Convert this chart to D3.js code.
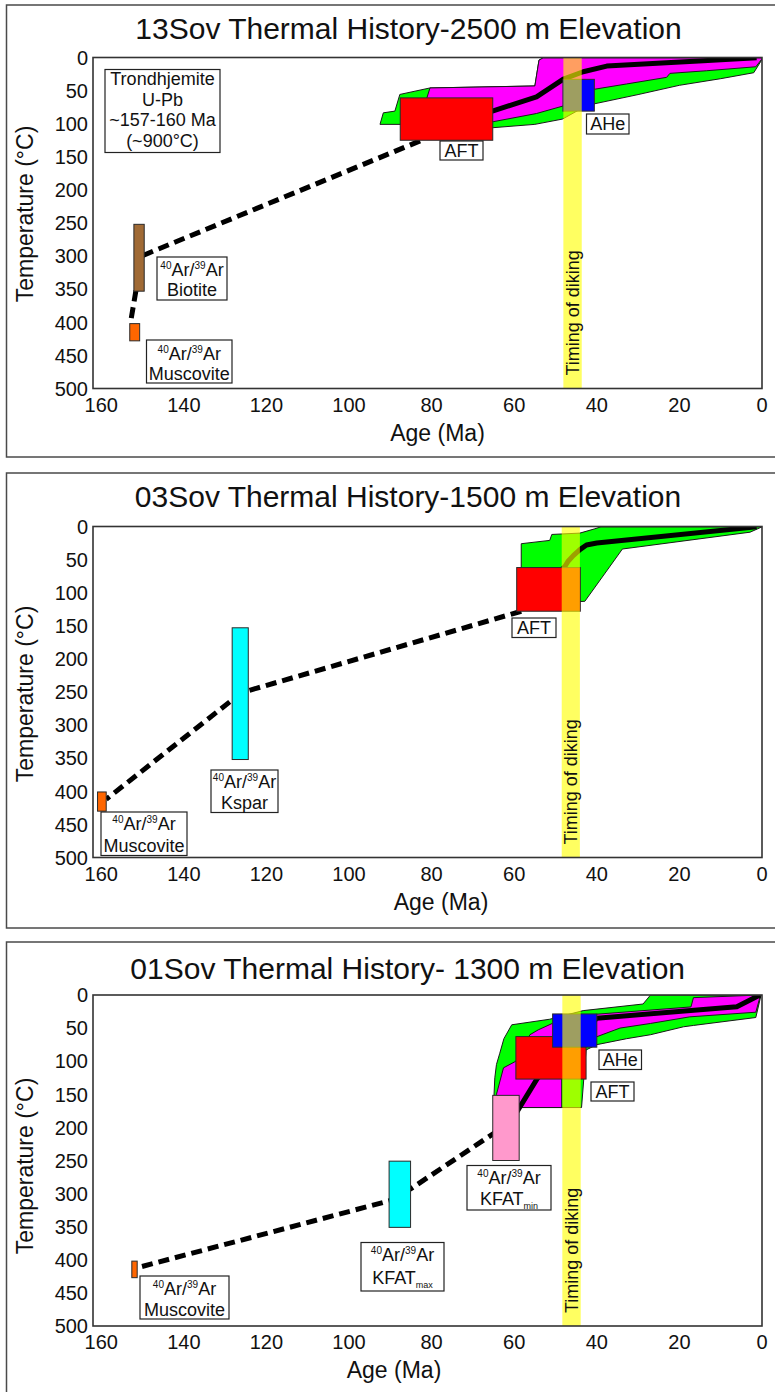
<!DOCTYPE html>
<html>
<head>
<meta charset="utf-8">
<script src="https://cdn.jsdelivr.net/npm/d3@7"></script>
<style>
  body { margin: 0; background: #fff; }
  svg { display: block; }
  text { font-family: "Liberation Sans", Arial, Helvetica, sans-serif; fill: #111; }
</style>
</head>
<body>
<svg id="chart" width="775" height="1392"></svg>
<script>
// ---- shared axis values ----
const ageTicks = [160, 140, 120, 100, 80, 60, 40, 20, 0];
const tempTicks = [0, 50, 100, 150, 200, 250, 300, 350, 400, 450, 500];

// ---- 13Sov (2500 m) : [age Ma, temperature °C] ----
const sov13Title = "13Sov Thermal History-2500 m Elevation";
const sov13Outer = [[80.4,46],[55,43],[54,4],[53,0.5],[0,0.5],[0,3],[2,23],[10,32],[20,42],[30,56],[40.6,70],[43.7,77],[48.3,93],[55,101],[65.1,106],[87.6,101],[92.5,101],[91.7,83.6],[88.9,81],[87.7,55.8]];
const sov13Inner = [[80.4,46],[55,43],[54,4],[53,0.5],[0,0.5],[0,2],[1.5,14],[13.4,20],[22.3,24],[23.1,30],[32.8,40],[40.6,48],[48.3,73.5],[54.6,84.6],[65.1,97],[81.2,62]];
const sov13Path = [[67,84],[65.1,80.6],[54.6,59.4],[48.1,32.6],[43.3,21.5],[37.6,13],[14.2,4.8],[1.3,0.5]];
const sov13Extrapolated = [[[82.8,126],[149.9,299]], [[151.6,352],[152.9,400]]];
const sov13AFT = [65.2, 87.6, 61, 125];       // [young age, old age, min T, max T]
const sov13AHe = [40.6, 48.2, 33, 81];
const sov13Biotite = [149.6, 152.1, 252, 353];
const sov13Muscovite = [150.7, 153.1, 402, 428];
const sov13Diking = [43.65, 48.1];

// ---- 03Sov (1500 m) ----
const sov03Title = "03Sov Thermal History-1500 m Elevation";
const sov03Outer = [[58.3,62],[58.3,26],[51.4,21],[50.9,12],[44.1,10],[40.5,3.5],[39,0.5],[0,0.5],[0.5,2],[2.9,8.6],[33.8,34],[42.9,113],[50,115],[58.3,100]];
const sov03Path = [[49,70],[48.3,64],[47.7,60],[46.9,52],[45.7,44],[44.1,35],[42.5,28],[40,25],[1.3,0.5]];
const sov03Extrapolated = [[[58.3,128],[124.4,248],[128.3,262],[158.8,412]]];
const sov03AFT = [44, 59.4, 62, 128];
const sov03Kspar = [124.4, 128.3, 153, 352];
const sov03Muscovite = [158.8, 160.9, 401, 430];
const sov03Diking = [44.1, 48.5];

// ---- 01Sov (1300 m) ----
const sov01Title = "01Sov Thermal History- 1300 m Elevation";
const sov01Outer = [[0.3,0],[27,0],[28.8,13.6],[43.3,23.6],[51.4,36.6],[60.6,45],[62.5,66],[63.5,88],[64.3,105],[64.7,125],[65,165],[58.8,170],[43.7,170],[42.6,83],[40,75],[32.8,66],[27,60],[19,48],[16.6,46],[1.5,34],[0.3,2]];
const sov01Inner = [[0.5,0],[16.6,4],[17.2,18],[40,29],[50.7,42.7],[54.2,52.7],[56.2,60],[59.6,100],[62.6,110],[64.3,150],[63,165],[58.7,170],[48.5,170],[48.5,127],[42.8,78],[40,63],[34.4,50],[27,43],[17.5,33],[1.5,26],[0.4,1]];
const sov01Path = [[0.5,0],[6.1,17.6],[40,35],[54.4,126],[59.5,178]];
const sov01Extrapolated = [[[64,205],[85.1,293],[90.3,311],[151.3,412]]];
const sov01AHe = [40, 50.7, 28.6, 78.8];
const sov01AFT = [42.6, 59.6, 62.8, 127];
const sov01KfatMin = [58.8, 65.2, 151.6, 250];
const sov01KfatMax = [85.1, 90.3, 251, 351];
const sov01Muscovite = [151.3, 152.6, 402, 427];
const sov01Diking = [43.9, 48.35];

// ---- drawing ----
const svg = d3.select("#chart");
const COL = {
  outer: "#00ff00", inner: "#ff00ff", aft: "#ff0000", ahe: "#0000ff",
  kspar: "#00ffff", kfatMin: "#ff99cc", biotite: "#a06a35", musc: "#ff6600",
  diking: "#ffff00"
};

function fitText(t, w) {
  const n = t.node().getComputedTextLength();
  if (Math.abs(n - w) / w > 0.015) t.attr("textLength", w).attr("lengthAdjust", "spacingAndGlyphs");
}

function writeLine(g, cx, cy, kind, txt) {
  const t = g.append("text").attr("x", cx).attr("y", cy + 6.4)
    .attr("text-anchor", "middle").attr("font-size", 18);
  if (kind === "ar") {
    t.append("tspan").attr("font-size", 10).attr("dy", -7).text("40");
    t.append("tspan").attr("dy", 7).text("Ar/");
    t.append("tspan").attr("font-size", 10).attr("dy", -7).text("39");
    t.append("tspan").attr("dy", 7).text("Ar");
  } else if (kind === "sub") {
    t.append("tspan").text(txt[0]);
    t.append("tspan").attr("font-size", 9).attr("dy", 4).text(txt[1]);
  } else {
    t.text(txt);
  }
}

function labelBox(g, b) {
  g.append("rect").attr("x", b.x0).attr("y", b.y0)
    .attr("width", b.x1 - b.x0).attr("height", b.y1 - b.y0)
    .attr("fill", "#fff").attr("stroke", "#222").attr("stroke-width", 1.2);
  const cx = (b.x0 + b.x1) / 2;
  b.lines.forEach(l => writeLine(g, cx, l.y, l.kind, l.txt));
}

let clipCount = 0;
function drawPanel(cfg) {
  const g = svg.append("g");
  const x = d3.scaleLinear().domain([162, 0]).range([93, 762]);
  const y = d3.scaleLinear().domain([0, 500]).range([cfg.top, cfg.top + 331]);
  const bottom = y(500);
  const line = d3.line().x(d => x(d[0])).y(d => y(d[1]));

  // panel border
  g.append("rect").attr("x", 6.5).attr("y", cfg.boxTop)
    .attr("width", 800).attr("height", cfg.boxH)
    .attr("fill", "#fff").attr("stroke", "#4a4a4a").attr("stroke-width", 1.5);

  // title
  const title = g.append("text").attr("x", cfg.titleX).attr("y", cfg.titleY + 10.8)
    .attr("text-anchor", "middle").attr("font-size", 30).text(cfg.title);
  fitText(title, cfg.titleW);

  // plot area
  const id = "plotclip" + (clipCount++);
  svg.append("clipPath").attr("id", id).append("rect")
    .attr("x", x(162)).attr("y", y(0)).attr("width", x(0) - x(162)).attr("height", bottom - y(0));
  const p = g.append("g").attr("clip-path", `url(#${id})`);

  const poly = (pts, fill) => p.append("path").attr("d", line(pts) + "Z")
    .attr("fill", fill).attr("stroke", "#1a1a1a").attr("stroke-width", 1).attr("stroke-linejoin", "round");
  if (cfg.outer) poly(cfg.outer, COL.outer);
  if (cfg.inner) poly(cfg.inner, COL.inner);

  // best-fit cooling path
  p.append("path").attr("d", line(cfg.path)).attr("fill", "none")
    .attr("stroke", "#000").attr("stroke-width", 5).attr("stroke-linejoin", "round");
  // extrapolated segments
  cfg.dashed.forEach(seg => p.append("path").attr("d", line(seg)).attr("fill", "none")
    .attr("stroke", "#000").attr("stroke-width", 5).attr("stroke-dasharray", "11,6"));

  // thermochronometer boxes
  cfg.boxes.forEach(([r, fill]) => p.append("rect")
    .attr("x", x(r[1])).attr("y", y(r[2]))
    .attr("width", x(r[0]) - x(r[1])).attr("height", y(r[3]) - y(r[2]))
    .attr("fill", fill).attr("stroke", "#2a2a2a").attr("stroke-width", 1));

  // dike emplacement window
  p.append("rect").attr("x", x(cfg.diking[1])).attr("y", y(0))
    .attr("width", x(cfg.diking[0]) - x(cfg.diking[1])).attr("height", bottom - y(0))
    .attr("fill", COL.diking).attr("fill-opacity", 0.62);
  const dx = x((cfg.diking[0] + cfg.diking[1]) / 2);
  g.append("text").attr("transform", `translate(${dx},${bottom - 13}) rotate(-90)`)
    .attr("dy", "0.35em").attr("font-size", 18).text("Timing of diking");

  cfg.labels.forEach(b => labelBox(g, b));

  // frame
  g.append("rect").attr("x", x(162)).attr("y", y(0))
    .attr("width", x(0) - x(162)).attr("height", bottom - y(0))
    .attr("fill", "none").attr("stroke", "#333").attr("stroke-width", 1.6);

  // axes labels
  g.selectAll(null).data(tempTicks).enter().append("text")
    .attr("x", 88).attr("y", d => y(d) + 7.2).attr("text-anchor", "end")
    .attr("font-size", 20).text(d => d);
  g.selectAll(null).data(ageTicks).enter().append("text")
    .attr("x", d => x(d)).attr("y", bottom + 16 + 7.2).attr("text-anchor", "middle")
    .attr("font-size", 20).text(d => d);
  g.append("text").attr("x", cfg.ageX).attr("y", bottom + 44 + 8.2)
    .attr("text-anchor", "middle").attr("font-size", 23).text("Age (Ma)");
  g.append("text").attr("transform", `translate(25,${cfg.tempY}) rotate(-90)`)
    .attr("dy", "0.35em").attr("text-anchor", "middle").attr("font-size", 23)
    .text("Temperature (°C)");
}

drawPanel({
  boxTop: 5, boxH: 452, title: sov13Title, titleX: 408.5, titleY: 28, titleW: 552,
  top: 57.5, ageX: 437.5, tempY: 214,
  outer: sov13Outer, inner: sov13Inner, path: sov13Path, dashed: sov13Extrapolated,
  boxes: [[sov13AFT, COL.aft], [sov13AHe, COL.ahe], [sov13Biotite, COL.biotite], [sov13Muscovite, COL.musc]],
  diking: sov13Diking,
  labels: [
    { x0: 105, x1: 220, y0: 69.5, y1: 152.5, lines: [
      { y: 79, txt: "Trondhjemite" }, { y: 99.5, txt: "U-Pb" },
      { y: 120, txt: "~157-160 Ma" }, { y: 141, txt: "(~900°C)" }] },
    { x0: 440, x1: 483, y0: 141, y1: 160, lines: [{ y: 150.5, txt: "AFT" }] },
    { x0: 586.5, x1: 629, y0: 114, y1: 134, lines: [{ y: 124, txt: "AHe" }] },
    { x0: 157, x1: 227, y0: 257, y1: 300, lines: [{ y: 270, kind: "ar" }, { y: 290, txt: "Biotite" }] },
    { x0: 146.5, x1: 232, y0: 340, y1: 383, lines: [{ y: 354, kind: "ar" }, { y: 373.5, txt: "Muscovite" }] }
  ]
});

drawPanel({
  boxTop: 473, boxH: 455, title: sov03Title, titleX: 408, titleY: 496.4, titleW: 551,
  top: 526.5, ageX: 441, tempY: 694,
  outer: sov03Outer, inner: null, path: sov03Path, dashed: sov03Extrapolated,
  boxes: [[sov03AFT, COL.aft], [sov03Kspar, COL.kspar], [sov03Muscovite, COL.musc]],
  diking: sov03Diking,
  labels: [
    { x0: 512, x1: 556, y0: 618, y1: 637.5, lines: [{ y: 627.7, txt: "AFT" }] },
    { x0: 211, x1: 278, y0: 770, y1: 812.5, lines: [{ y: 781.5, kind: "ar" }, { y: 802.5, txt: "Kspar" }] },
    { x0: 101, x1: 187, y0: 812, y1: 855.5, lines: [{ y: 824, kind: "ar" }, { y: 845.5, txt: "Muscovite" }] }
  ]
});

drawPanel({
  boxTop: 942, boxH: 470, title: sov01Title, titleX: 407.7, titleY: 968.3, titleW: 560.5,
  top: 995, ageX: 394, tempY: 1166,
  outer: sov01Outer, inner: sov01Inner, path: sov01Path, dashed: sov01Extrapolated,
  boxes: [[sov01AFT, COL.aft], [sov01AHe, COL.ahe], [sov01KfatMin, COL.kfatMin], [sov01KfatMax, COL.kspar], [sov01Muscovite, COL.musc]],
  diking: sov01Diking,
  labels: [
    { x0: 599, x1: 641.5, y0: 1050, y1: 1069.5, lines: [{ y: 1059.7, txt: "AHe" }] },
    { x0: 591, x1: 634, y0: 1082, y1: 1101, lines: [{ y: 1091.5, txt: "AFT" }] },
    { x0: 467, x1: 551, y0: 1165.5, y1: 1210, lines: [{ y: 1177.5, kind: "ar" }, { y: 1198.5, kind: "sub", txt: ["KFAT", "min"] }] },
    { x0: 361, x1: 444, y0: 1242.5, y1: 1291, lines: [{ y: 1255, kind: "ar" }, { y: 1277.5, kind: "sub", txt: ["KFAT", "max"] }] },
    { x0: 140, x1: 229, y0: 1276, y1: 1319, lines: [{ y: 1288.5, kind: "ar" }, { y: 1309.5, txt: "Muscovite" }] }
  ]
});
</script>
</body>
</html>
